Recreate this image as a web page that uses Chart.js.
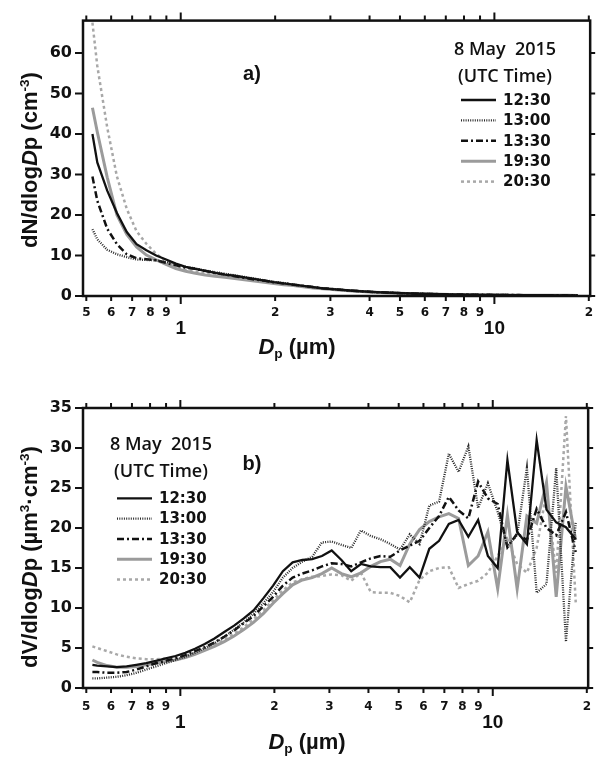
<!DOCTYPE html>
<html>
<head>
<meta charset="utf-8">
<script src="https://cdn.jsdelivr.net/npm/chart.js@4.4.1/dist/chart.umd.min.js"></script>
<style>
  body { margin: 0; background: #fff; }
  #wrap { position: relative; width: 603px; height: 758px; overflow: hidden; }
  canvas { position: absolute; left: 0; }
  .lbl { position: absolute; font: bold 22px "Liberation Sans", Arial, sans-serif; color: #111;
         white-space: nowrap; transform: translate(-50%, -50%); line-height: 1; }
  .rot { transform: translate(-50%, -50%) rotate(-90deg); }
  .lbl sup, .lbl sub { font-size: 0.62em; line-height: 0; }
  .lbl sup { vertical-align: 0.6em; }
  .lbl sub { vertical-align: -0.3em; }
</style>
</head>
<body>
<div id="wrap">
  <canvas id="chartA" width="603" height="360" style="top:0"></canvas>
  <canvas id="chartB" width="603" height="378" style="top:380px"></canvas>

  <div class="lbl rot" style="left:30px;top:160px">dN/dlog<i>D</i>p (cm<sup>-3</sup>)</div>
  <div class="lbl" style="left:297px;top:347px"><i>D</i><sub>p</sub> (µm)</div>
  <div class="lbl" style="left:252px;top:73px;font-size:20px">a)</div>

  <div class="lbl rot" style="left:30px;top:557px">dV/dlog<i>D</i>p (µm<sup>3</sup>·cm<sup>-3</sup>)</div>
  <div class="lbl" style="left:307px;top:742px"><i>D</i><sub>p</sub> (µm)</div>
  <div class="lbl" style="left:252px;top:463px;font-size:20px">b)</div>
</div>

<script>
// particle diameter (µm), size channels
const sizes = [0.523, 0.542, 0.583, 0.626, 0.673, 0.723, 0.777, 0.835, 0.898, 0.965,
  1.037, 1.114, 1.197, 1.286, 1.382, 1.486, 1.596, 1.715, 1.843, 1.981,
  2.129, 2.288, 2.458, 2.642, 2.839, 3.051, 3.278, 3.523, 3.786, 4.068,
  4.371, 4.698, 5.048, 5.425, 5.829, 6.264, 6.732, 7.234, 7.774, 8.354,
  8.977, 9.647, 10.37, 11.14, 11.97, 12.86, 13.82, 14.86, 15.96, 17.15, 18.43];

const times = ['12:30', '13:00', '13:30', '19:30', '20:30'];

// a) dN/dlogDp (cm-3)
const num1230 = [40, 33, 26, 20.5, 15.8, 12.8, 11.3, 10, 9, 8,
  7.2, 6.7, 6.2, 5.7, 5.3, 5.0, 4.6, 4.2, 3.8, 3.4,
  3.1, 2.8, 2.5, 2.2, 1.9, 1.7, 1.5, 1.3, 1.15, 1.0,
  0.9, 0.8, 0.7, 0.62, 0.55, 0.5, 0.45, 0.4, 0.36, 0.33,
  0.3, 0.28, 0.26, 0.24, 0.22, 0.2, 0.19, 0.18, 0.17, 0.16, 0.15];
const num1300 = [16.5, 14, 11.4, 10.3, 9.6, 9.0, 8.9, 8.8, 8.4, 7.8,
  7.2, 6.8, 6.3, 5.9, 5.5, 5.1, 4.7, 4.3, 3.9, 3.5,
  3.2, 2.8, 2.5, 2.2, 1.9, 1.7, 1.5, 1.3, 1.15, 1.0,
  0.9, 0.8, 0.7, 0.62, 0.55, 0.5, 0.45, 0.4, 0.36, 0.33,
  0.3, 0.28, 0.26, 0.24, 0.22, 0.2, 0.19, 0.18, 0.17, 0.16, 0.15];
const num1330 = [29.5, 23.5, 16.6, 12.8, 10.3, 9.3, 9.1, 8.8, 8.2, 7.6,
  7.0, 6.7, 6.2, 5.7, 5.3, 4.9, 4.5, 4.1, 3.8, 3.4,
  3.1, 2.8, 2.5, 2.2, 1.9, 1.7, 1.5, 1.3, 1.15, 1.0,
  0.9, 0.8, 0.7, 0.62, 0.55, 0.5, 0.45, 0.4, 0.36, 0.33,
  0.3, 0.28, 0.26, 0.24, 0.22, 0.2, 0.19, 0.18, 0.17, 0.16, 0.15];
const num1930 = [46.5, 40.5, 29.3, 20, 15.2, 12.1, 10.1, 8.9, 7.8, 6.8,
  6.1, 5.6, 5.2, 4.9, 4.6, 4.3, 4.0, 3.7, 3.4, 3.1,
  2.8, 2.6, 2.3, 2.0, 1.8, 1.6, 1.4, 1.25, 1.1, 0.95,
  0.85, 0.75, 0.66, 0.58, 0.52, 0.46, 0.42, 0.38, 0.34, 0.31,
  0.28, 0.26, 0.24, 0.22, 0.21, 0.2, 0.19, 0.18, 0.17, 0.16, 0.15];
const num2030 = [67.5, 56.8, 41.6, 29.5, 21.5, 16, 12.9, 10.4, 8.6, 7.1,
  6.5, 6.0, 5.6, 5.2, 4.9, 4.6, 4.3, 4.0, 3.7, 3.3,
  3.0, 2.7, 2.4, 2.1, 1.9, 1.7, 1.5, 1.3, 1.15, 1.0,
  0.9, 0.8, 0.7, 0.62, 0.55, 0.5, 0.45, 0.4, 0.36, 0.33,
  0.3, 0.28, 0.26, 0.24, 0.22, 0.2, 0.19, 0.18, 0.17, 0.16, 0.15];

// b) dV/dlogDp (µm3·cm-3)
const vol1230 = [2.9, 2.8, 2.7, 2.6, 2.7, 2.9, 3.1, 3.4, 3.7, 4.0,
  4.4, 4.9, 5.5, 6.2, 7.0, 7.8, 8.7, 9.7, 11.2, 12.8,
  14.6, 15.7, 16.0, 16.1, 16.5, 17.2, 16.0, 14.6, 15.5, 15.2,
  15.1, 15.1, 13.8, 15.1, 13.8, 17.4, 18.4, 20.5, 21, 18.9,
  21, 16.5, 15, 28.5, 19.5, 18, 31, 22.3, 20.7, 20.1, 18.6];
const vol1300 = [1.2, 1.2, 1.3, 1.4, 1.6, 1.9, 2.3, 2.7, 3.1, 3.5,
  3.9, 4.4, 5.0, 5.6, 6.4, 7.3, 8.2, 9.3, 10.6, 12.0,
  13.8, 15.0, 15.8, 16.4, 18.2, 18.3, 17.9, 17.5, 19.7, 19.0,
  18.6, 18.0, 17.3, 19.2, 18.0, 22.8, 23.3, 29.3, 27.0, 30.2,
  22.5, 25.6, 22.0, 17.8, 19.1, 27.5, 11.9, 13.0, 27.5, 5.8, 20.7];
const vol1330 = [2.0, 2.0, 1.9, 1.9, 2.0, 2.3, 2.7, 3.1, 3.4, 3.7,
  4.1, 4.6, 5.1, 5.7, 6.4, 7.2, 8.1, 9.0, 10.2, 11.4,
  12.8, 13.8, 14.3, 14.7, 15.2, 15.6, 15.5, 15.2, 15.7, 16.2,
  16.5, 16.4, 17.2, 17.8, 18.4, 20.0, 21.5, 23.9, 22.2, 21.2,
  25.8, 23.7, 23.0, 17.6, 19.3, 18.5, 22.4, 20.0, 19.1, 22.0, 17.0];
const vol1930 = [3.5, 3.2, 2.8, 2.6, 2.6, 2.7, 2.9, 3.1, 3.3, 3.5,
  3.8, 4.2, 4.7, 5.2, 5.8, 6.5, 7.3, 8.2, 9.3, 10.6,
  11.8, 12.9, 13.5, 13.8, 14.3, 15.0, 14.3, 13.9, 14.4, 15.2,
  15.8, 16.1, 15.3, 18.0, 19.8, 20.8, 21.4, 21.8, 21.2, 15.3,
  16.5, 19.5, 12.4, 21.6, 12.4, 21.5, 20.6, 25.7, 11.4, 25.2, 18.5];
const vol2030 = [5.2, 5.0, 4.6, 4.2, 3.9, 3.7, 3.6, 3.6, 3.7, 3.8,
  4.0, 4.4, 4.9, 5.4, 6.0, 6.8, 7.6, 8.6, 9.7, 11.0,
  12.2, 13.2, 13.6, 13.9, 14.0, 14.2, 14.1, 13.4, 14.4, 12.0,
  11.9, 11.9, 11.5, 10.7, 13.5, 14.6, 15.0, 15.1, 12.5, 13.0,
  13.4, 14.4, 16.5, 18.6, 15.5, 14.4, 17.5, 24.5, 14.4, 34.0, 10.7];

// axis ticks
const xTicks = [0.5, 0.6, 0.7, 0.8, 0.9, 1, 2, 3, 4, 5, 6, 7, 8, 9, 10, 20];
const xMajor = [1, 10];
const yTicksA = [0, 10, 20, 30, 40, 50, 60];
const yTicksB = [0, 5, 10, 15, 20, 25, 30, 35];

const lineStyles = [
  { color: '#111', width: 2.3, dash: [] },
  { color: '#2a2a2a', width: 2.3, dash: [1, 1.3] },
  { color: '#111', width: 2.5, dash: [7, 3, 2, 3] },
  { color: '#9b9b9b', width: 3, dash: [] },
  { color: '#a8a8a8', width: 2.5, dash: [3, 3] }
];

// frame + mirrored tick marks on all four sides
const framePlugin = {
  id: 'frame',
  afterDraw(chart) {
    const { ctx, chartArea: a, scales: { x, y } } = chart;
    ctx.save();
    ctx.strokeStyle = '#111';
    ctx.lineWidth = 2;
    ctx.beginPath();
    x.ticks.forEach(t => {
      const px = x.getPixelForValue(t.value);
      const len = t.major ? 8 : 5;
      ctx.moveTo(px, a.bottom); ctx.lineTo(px, a.bottom + len);
      ctx.moveTo(px, a.top); ctx.lineTo(px, a.top - len);
    });
    y.ticks.forEach(t => {
      const py = y.getPixelForValue(t.value);
      ctx.moveTo(a.left, py); ctx.lineTo(a.left - 8, py);
      ctx.moveTo(a.right, py); ctx.lineTo(a.right + 5, py);
    });
    ctx.stroke();
    ctx.lineWidth = 2.5;
    ctx.strokeRect(a.left, a.top, a.right - a.left, a.bottom - a.top);
    ctx.restore();
  }
};

// legend with title, drawn from the datasets
const legendPlugin = {
  id: 'sizeLegend',
  afterDraw(chart, args, o) {
    const ctx = chart.ctx;
    ctx.save();
    ctx.fillStyle = '#111';
    ctx.textBaseline = 'middle';
    ctx.textAlign = 'center';
    ctx.font = '600 18px "Open Sans"';
    ctx.fillText('8 May  2015', o.titleX, o.titleY);
    ctx.fillText('(UTC Time)', o.titleX, o.titleY + 27);
    ctx.textAlign = 'left';
    ctx.font = 'bold 15px "DejaVu Sans"';
    chart.data.datasets.forEach((ds, i) => {
      const yy = o.y + i * o.gap;
      ctx.beginPath();
      ctx.strokeStyle = ds.borderColor;
      ctx.lineWidth = ds.borderWidth;
      ctx.setLineDash(ds.borderDash);
      ctx.moveTo(o.x, yy);
      ctx.lineTo(o.x + 35, yy);
      ctx.stroke();
      ctx.setLineDash([]);
      ctx.fillText(ds.label, o.x + 42, yy + 1);
    });
    ctx.restore();
  }
};

function makeChart(id, series, yMax, yTicks, padTop, xHeight, labelPad, legendPos) {
  const datasets = series.map((vals, i) => ({
    label: times[i],
    data: sizes.map((d, j) => ({ x: d, y: vals[j] })),
    borderColor: lineStyles[i].color,
    borderWidth: lineStyles[i].width,
    borderDash: lineStyles[i].dash,
    pointRadius: 0,
    fill: false,
    tension: 0
  }));

  return new Chart(document.getElementById(id), {
    type: 'line',
    data: { datasets },
    plugins: [framePlugin, legendPlugin],
    options: {
      responsive: false,
      devicePixelRatio: 1,
      animation: false,
      layout: { padding: { left: 0, right: 5, top: padTop, bottom: 0 } },
      plugins: {
        legend: { display: false },
        tooltip: { enabled: false },
        sizeLegend: legendPos
      },
      scales: {
        x: {
          type: 'logarithmic',
          min: 0.488,
          max: 20.2,
          grid: { display: false, drawTicks: false },
          border: { display: false },
          afterBuildTicks: (s) => {
            s.ticks = xTicks.map(v => ({ value: v, major: xMajor.includes(v) }));
          },
          afterFit: (s) => { s.height = xHeight; },
          ticks: {
            autoSkip: false,
            maxRotation: 0,
            padding: labelPad,
            color: '#111',
            font: (c) => (c.tick && c.tick.major)
              ? { family: 'Liberation Sans', weight: 'bold', size: 19, lineHeight: '15.5px' }
              : { family: 'DejaVu Sans', weight: 'bold', size: 12, lineHeight: '14px' },
            callback: (v, i, ticks) => {
              if (ticks[i].major) return ['', String(v)];
              const exp = Math.floor(Math.log10(v) + 1e-9);
              return String(Math.round(v / Math.pow(10, exp)));
            }
          }
        },
        y: {
          min: 0,
          max: yMax,
          grid: { display: false, drawTicks: false },
          border: { display: false },
          afterBuildTicks: (s) => { s.ticks = yTicks.map(v => ({ value: v })); },
          afterFit: (s) => { s.width = 83; },
          ticks: {
            padding: 11,
            color: '#111',
            font: { family: 'DejaVu Sans', weight: 'bold', size: 16 }
          }
        }
      }
    }
  });
}

makeChart('chartA', [num1230, num1300, num1330, num1930, num2030], 68, yTicksA, 20, 64, 10,
  { titleX: 505, titleY: 50, x: 461, y: 100, gap: 20.4 });
makeChart('chartB', [vol1230, vol1300, vol1330, vol1930, vol2030], 35, yTicksB, 28, 70, 12,
  { titleX: 161, titleY: 65, x: 117, y: 118.3, gap: 20.3 });
</script>
</body>
</html>
